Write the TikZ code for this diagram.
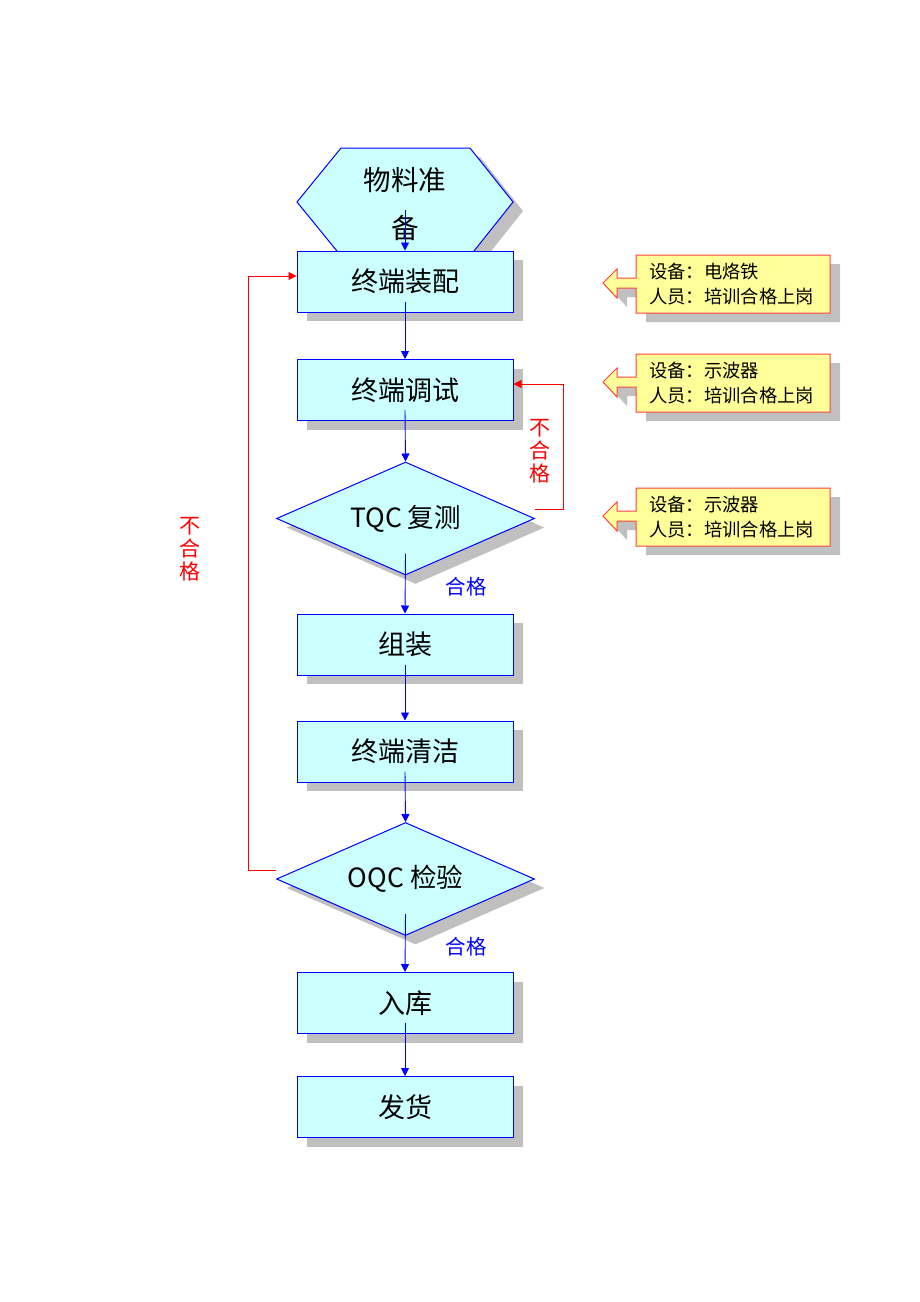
\documentclass[tikz,border=0pt]{standalone}
\usepackage{fontspec}
\setmainfont{Noto Sans CJK SC}
\usetikzlibrary{shapes.geometric,shadows,arrows.meta}
\definecolor{boxfill}{HTML}{CCFFFF}
\definecolor{boxline}{HTML}{0000FF}
\definecolor{shade}{HTML}{C0C0C0}
\definecolor{notefill}{HTML}{FFFF99}
\definecolor{noteline}{HTML}{FF4040}
\definecolor{failred}{HTML}{FF0000}
\tikzset{
  shadowed/.style={drop shadow={shadow xshift=10pt, shadow yshift=-9pt, fill=shade, opacity=1}},
  procbox/.style={rectangle, draw=boxline, fill=boxfill, line width=1pt,
    minimum width=216pt, minimum height=61pt, inner sep=0pt,
    font=\fontsize{27}{30}\selectfont, shadowed},
  decision/.style={diamond, draw=boxline, fill=boxfill, line width=1pt, aspect=2.28,
    minimum width=258pt, minimum height=113pt, inner sep=0pt,
    font=\fontsize{26.5}{30}\selectfont, shadowed},
  flow/.style={draw=boxline, line width=0.9pt, -{Triangle[length=8pt,width=8pt]}},
  failflow/.style={draw=failred, line width=0.9pt, -{Triangle[length=8pt,width=8pt]}},
  faillabel/.style={text=failred, align=center, inner sep=0pt, font=\fontsize{21}{23}\selectfont},
  passlabel/.style={text=boxline, inner sep=0pt, font=\fontsize{20.5}{24}\selectfont},
  notebody/.style={draw=noteline, fill=notefill, line width=1pt, shadowed},
  notetext/.style={anchor=west, align=left, inner sep=0pt, font=\fontsize{18.3}{25}\selectfont},
}
\newcommand\mynote[3]{%
  \begin{scope}[shift={(0,#1)}]
    \path[notebody] (603,28) -- (617,14) -- (617,23) -- (636,23) -- (636,0) -- (830,0)
      -- (830,58) -- (636,58) -- (636,33) -- (617,33) -- (617,43) -- cycle;
    \node[notetext] (#2) at (649,29.5) {#3};
  \end{scope}}
\begin{document}
\begin{tikzpicture}[x=1pt,y=-1pt]
\useasboundingbox (0,0) rectangle (920,1302);
\fill[white] (0,0) rectangle (920,1302);

% start hexagon
\path[draw=boxline, fill=boxfill, line width=1pt, shadowed]
  (341,148) -- (470,148) -- (513,202) -- (470,256) -- (341,256) -- (297,202) -- cycle;
\node[align=center, inner sep=0pt, font=\fontsize{27.5}{48}\selectfont] (hex) at (405,204) {物料准\\备};

% process steps
\node[procbox] (a) at (405,281.5) {终端装配};
\node[procbox] (b) at (405,390) {终端调试};
\node[decision] (t) at (405.5,518.5) {TQC 复测};
\node[procbox] (c) at (405,644.5) {组装};
\node[procbox] (d) at (405,751.5) {终端清洁};
\node[decision] (o) at (405.5,879) {OQC 检验};
\node[procbox] (e) at (405,1003) {入库};
\node[procbox] (f) at (405,1107) {发货};

% main flow
\draw[flow] ([yshift=-6pt]hex.center) -- (a.north);
\draw[flow] ([yshift=11pt]a.south) -- (b.north);
\draw[flow] ([yshift=11pt]b.south) -- (t.north);
\draw[flow] ([yshift=22pt]t.south) -- (c.north);
\draw[flow] ([yshift=11pt]c.south) -- (d.north);
\draw[flow] ([yshift=11pt]d.south) -- (o.north);
\draw[flow] ([yshift=22pt]o.south) -- (e.north);
\draw[flow] ([yshift=11pt]e.south) -- (f.north);

% feedback loops
\draw[failflow] ([yshift=9.5pt]t.east) -- ++(28,0) |- ([yshift=6pt]b.east);
\draw[failflow] ([yshift=9pt]o.west) -- ++(-28,0) |- ([yshift=5.5pt]a.west);

% labels
\node[faillabel] (fail1) at (540,451) {不\\合\\格};
\node[faillabel] (fail2) at (190,549) {不\\合\\格};
\node[passlabel] (pass1) at (466,587) {合格};
\node[passlabel] (pass2) at (466,947) {合格};

% side notes
\mynote{255}{note1}{设备：电烙铁\\人员：培训合格上岗}
\mynote{354}{note2}{设备：示波器\\人员：培训合格上岗}
\mynote{488}{note3}{设备：示波器\\人员：培训合格上岗}
\end{tikzpicture}
\end{document}
